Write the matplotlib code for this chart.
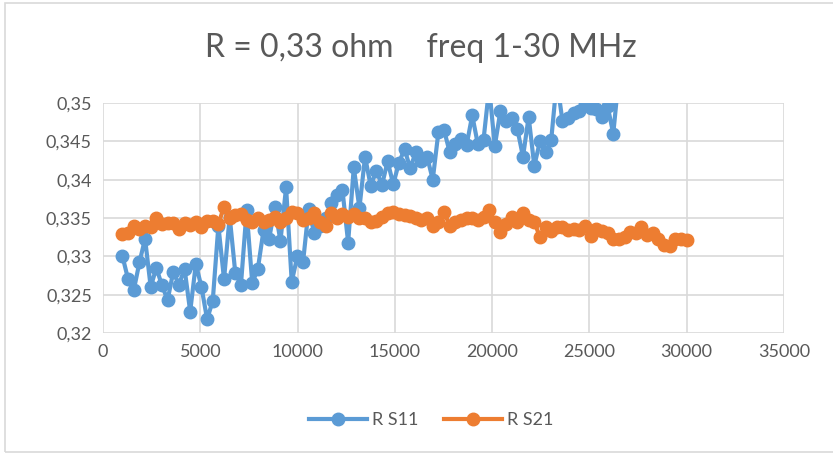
import matplotlib.pyplot as plt
from matplotlib.patches import Rectangle

plt.rcParams['font.family'] = ['Lato', 'DejaVu Sans']

freq = [1000, 1290, 1580, 1870, 2160, 2450, 2740, 3030, 3320, 3610,
        3900, 4190, 4480, 4770, 5060, 5350, 5640, 5930, 6220, 6510,
        6800, 7090, 7380, 7670, 7960, 8250, 8540, 8830, 9120, 9410,
        9700, 9990, 10280, 10570, 10860, 11150, 11440, 11730, 12020, 12310,
        12600, 12890, 13180, 13470, 13760, 14050, 14340, 14630, 14920, 15210,
        15500, 15790, 16080, 16370, 16660, 16950, 17240, 17530, 17820, 18110,
        18400, 18690, 18980, 19270, 19560, 19850, 20140, 20430, 20720, 21010,
        21300, 21590, 21880, 22170, 22460, 22750, 23040, 23330, 23620, 23910,
        24200, 24490, 24780, 25070, 25360, 25650, 25940, 26230, 26520, 26810,
        27100, 27390, 27680, 27970, 28260, 28550, 28840, 29130, 29420, 29710,
        30000]

r_s11 = [0.3300, 0.3270, 0.3256, 0.3292, 0.3323, 0.3260, 0.3285, 0.3262, 0.3243, 0.3280,
         0.3263, 0.3284, 0.3228, 0.3290, 0.3260, 0.3218, 0.3242, 0.3340, 0.3270, 0.3352,
         0.3278, 0.3263, 0.3360, 0.3265, 0.3284, 0.3334, 0.3323, 0.3364, 0.3320, 0.3390,
         0.3267, 0.3300, 0.3292, 0.3362, 0.3330, 0.3340, 0.3350, 0.3370, 0.3380, 0.3386,
         0.3318, 0.3416, 0.3363, 0.3430, 0.3392, 0.3412, 0.3393, 0.3424, 0.3394, 0.3422,
         0.3440, 0.3415, 0.3436, 0.3425, 0.3430, 0.3400, 0.3462, 0.3465, 0.3436, 0.3446,
         0.3453, 0.3445, 0.3484, 0.3446, 0.3452, 0.3520, 0.3444, 0.3490, 0.3476, 0.3480,
         0.3466, 0.3430, 0.3482, 0.3418, 0.3450, 0.3436, 0.3452, 0.3530, 0.3476, 0.3480,
         0.3487, 0.3490, 0.3499, 0.3494, 0.3492, 0.3482, 0.3496, 0.3460, 0.3535, 0.3550,
         0.3545, 0.3560, 0.3555, 0.3570, 0.3560, 0.3575, 0.3570, 0.3580, 0.3575, 0.3590,
         0.3580]

r_s21 = [0.3329, 0.3330, 0.3340, 0.3336, 0.3339, 0.3338, 0.3350, 0.3342, 0.3343, 0.3343,
         0.3336, 0.3343, 0.3341, 0.3345, 0.3338, 0.3346, 0.3346, 0.3342, 0.3365, 0.3350,
         0.3354, 0.3355, 0.3348, 0.3345, 0.3350, 0.3345, 0.3348, 0.3352, 0.3345, 0.3350,
         0.3358, 0.3356, 0.3348, 0.3350, 0.3356, 0.3345, 0.3340, 0.3357, 0.3350, 0.3355,
         0.3352, 0.3355, 0.3350, 0.3350, 0.3345, 0.3346, 0.3352, 0.3356, 0.3358, 0.3355,
         0.3354, 0.3353, 0.3350, 0.3348, 0.3350, 0.3340, 0.3345, 0.3358, 0.3340, 0.3345,
         0.3348, 0.3350, 0.3350, 0.3348, 0.3352, 0.3360, 0.3345, 0.3332, 0.3342, 0.3352,
         0.3345, 0.3357, 0.3348, 0.3345, 0.3325, 0.3338, 0.3333, 0.3338, 0.3338, 0.3335,
         0.3336, 0.3335, 0.3340, 0.3326, 0.3336, 0.3333, 0.3330, 0.3322, 0.3322, 0.3325,
         0.3332, 0.3330, 0.3338, 0.3328, 0.3330, 0.3322, 0.3315, 0.3314, 0.3322, 0.3322,
         0.3321]

x_ticks = [0, 5000, 10000, 15000, 20000, 25000, 30000, 35000]
y_ticks = [0.32, 0.325, 0.33, 0.335, 0.34, 0.345, 0.35]
y_labels = ['0,32', '0,325', '0,33', '0,335', '0,34', '0,345', '0,35']

fig = plt.figure(figsize=(8.33, 4.54), dpi=100)
fig.patches.append(Rectangle((0.006, 0.004), 1.2, 0.99, transform=fig.transFigure,
                             fill=False, edgecolor='#D9D9D9', lw=1.2))
ax = fig.add_axes([0.1237, 0.2665, 0.8173, 0.5065])

ax.plot(freq, r_s11, color='#5B9BD5', lw=3, marker='o', ms=9, label='R S11')
ax.plot(freq, r_s21, color='#ED7D31', lw=3, marker='o', ms=9, label='R S21')

ax.set_xlim(0, 35000)
ax.set_ylim(0.32, 0.35)
ax.set_xticks(x_ticks)
ax.set_yticks(y_ticks)
ax.set_yticklabels(y_labels)
ax.grid(True, color='#D9D9D9', lw=1.2)
ax.set_axisbelow(True)
for s in ax.spines.values():
    s.set_visible(False)
ax.tick_params(length=0, labelsize=13, labelcolor='#595959', pad=8)

fig.text(0.505, 0.895, 'R = 0,33 ohm    freq 1-30 MHz', ha='center', va='center',
         fontsize=23, color='#595959')
fig.legend(loc='center', bbox_to_anchor=(0.518, 0.075), ncol=2, frameon=False,
           fontsize=13, labelcolor='#595959', handlelength=3.2, columnspacing=1.4,
           handletextpad=0.3)

fig.savefig('out.png', dpi=100)
